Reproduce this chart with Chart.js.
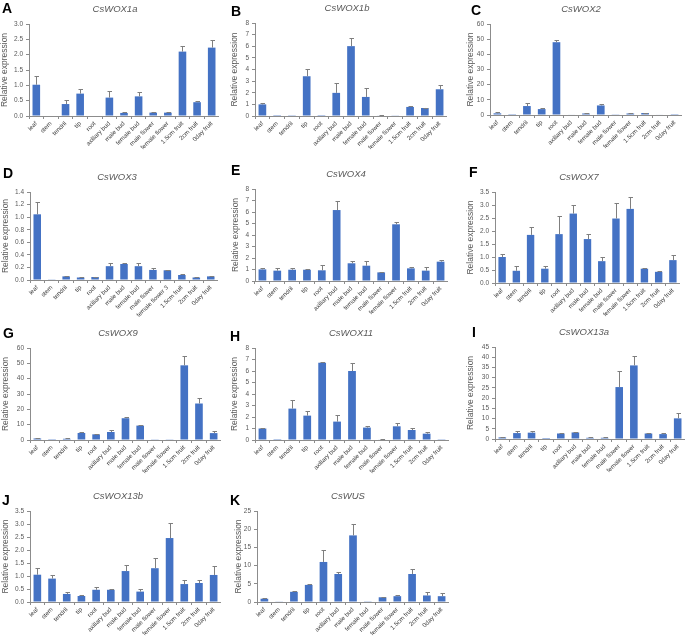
<!DOCTYPE html>
<html>
<head>
<meta charset="utf-8">
<script src="https://cdn.jsdelivr.net/npm/chart.js@4.4.1/dist/chart.umd.min.js"></script>
<style>
  html, body { margin: 0; padding: 0; background: #ffffff; }
  body { width: 685px; height: 638px; position: relative; overflow: hidden; }
  canvas { position: absolute; }
  .letter { position: absolute; font: bold 14px "Liberation Sans", Arial, sans-serif; color: #000; line-height: 14px; }
</style>
</head>
<body>
<script>
// ---------------- DATA ----------------
const categories = ['leaf', 'stem', 'tendril', 'tip', 'root', 'axillary bud', 'male bud', 'female bud', 'male flower', 'female flower', '1.5cm fruit', '2cm fruit', '0day fruit'];
const categoriesD = ['leaf', 'stem', 'tendril', 'tip', 'root', 'axillary bud', 'male bud', 'female bud', 'male flower', 'female flower 3', '1.5cm fruit', '2cm fruit', '0day fruit'];
const panelLetters = ['A', 'B', 'C', 'D', 'E', 'F', 'G', 'H', 'I', 'J', 'K'];
const geneNames = ['CsWOX1a', 'CsWOX1b', 'CsWOX2', 'CsWOX3', 'CsWOX4', 'CsWOX7', 'CsWOX9', 'CsWOX11', 'CsWOX13a', 'CsWOX13b', 'CsWUS'];

const valWOX1a = [1.02, 0, 0.39, 0.73, 0, 0.60, 0.10, 0.64, 0.11, 0.11, 2.10, 0.45, 2.23];
const errWOX1a = [0.27, 0, 0.14, 0.15, 0, 0.22, 0.03, 0.14, 0.03, 0.02, 0.17, 0.03, 0.24];
const valWOX1b = [1.00, 0.01, 0.02, 3.42, 0.01, 1.99, 6.01, 1.64, 0.05, 0.03, 0.78, 0.69, 2.30];
const errWOX1b = [0.09, 0, 0, 0.64, 0, 0.83, 0.69, 0.75, 0.02, 0, 0.11, 0.04, 0.35];
const valWOX2 = [1.1, 0.1, 5.9, 3.9, 48.0, 0.3, 1.0, 6.3, 0.2, 1.0, 1.3, 0.3, 0.1];
const errWOX2 = [0.8, 0, 2.0, 0.9, 1.5, 0, 0.2, 0.9, 0, 0.2, 0.2, 0, 0];
const valWOX3 = [1.045, 0.005, 0.058, 0.04, 0.048, 0.22, 0.255, 0.22, 0.16, 0.155, 0.08, 0.04, 0.058];
const errWOX3 = [0.20, 0, 0.01, 0.005, 0.005, 0.05, 0.01, 0.045, 0.03, 0.01, 0.01, 0.005, 0.008];
const valWOX4 = [1.01, 0.90, 0.98, 0.98, 0.93, 6.17, 1.54, 1.33, 0.75, 4.93, 1.10, 0.90, 1.68];
const errWOX4 = [0.08, 0.20, 0.18, 0.03, 0.49, 0.80, 0.23, 0.44, 0.05, 0.20, 0.15, 0.28, 0.17];
const valWOX7 = [1.00, 0.47, 1.85, 0.55, 1.88, 2.67, 1.69, 0.84, 2.48, 2.85, 0.55, 0.43, 0.88];
const errWOX7 = [0.10, 0.17, 0.29, 0.10, 0.68, 0.34, 0.20, 0.15, 0.60, 0.45, 0.04, 0.03, 0.19];
const valWOX9 = [1.0, 0.1, 0.8, 4.6, 3.7, 5.2, 14.2, 9.4, 0.2, 0.2, 48.7, 23.8, 4.5];
const errWOX9 = [0.2, 0, 0.2, 0.8, 0.5, 1.3, 0.6, 0.6, 0, 0, 5.9, 3.7, 1.3];
const valWOX11 = [1.00, 0.01, 2.73, 2.12, 6.72, 1.60, 6.00, 1.08, 0.05, 1.19, 0.87, 0.55, 0.02];
const errWOX11 = [0.08, 0, 0.77, 0.38, 0.04, 0.58, 0.70, 0.14, 0.02, 0.32, 0.17, 0.18, 0];
const valWOX13a = [0.8, 2.9, 3.1, 0.5, 2.7, 3.2, 0.6, 0.6, 25.4, 36.0, 2.7, 2.4, 10.1];
const errWOX13a = [0.3, 1.2, 0.7, 0, 0.4, 0.3, 0.2, 0.3, 8.0, 4.6, 0.4, 0.5, 2.8];
const valWOX13b = [1.05, 0.90, 0.31, 0.23, 0.47, 0.47, 1.19, 0.40, 1.30, 2.46, 0.69, 0.73, 1.04];
const errWOX13b = [0.27, 0.12, 0.06, 0.04, 0.10, 0.02, 0.25, 0.11, 0.38, 0.59, 0.14, 0.13, 0.36];
const valWUS = [0.9, 0.1, 2.8, 4.7, 11.0, 7.7, 18.3, 0.2, 1.3, 1.6, 7.7, 1.8, 1.6];
const errWUS = [0.3, 0, 0.2, 0.3, 3.4, 0.6, 3.2, 0, 0.2, 0.2, 1.5, 1.0, 0.8];

const yMaxes = [3, 8, 60, 1.4, 8, 3.5, 60, 8, 45, 3.5, 25];
const ySteps = [0.5, 1, 10, 0.2, 1, 0.5, 10, 1, 5, 0.5, 5];
const yDecimals = [1, 0, 0, 1, 0, 1, 0, 0, 0, 1, 0];

const allValues = [valWOX1a, valWOX1b, valWOX2, valWOX3, valWOX4, valWOX7, valWOX9, valWOX11, valWOX13a, valWOX13b, valWUS];
const allErrors = [errWOX1a, errWOX1b, errWOX2, errWOX3, errWOX4, errWOX7, errWOX9, errWOX11, errWOX13a, errWOX13b, errWUS];

// ---------------- LAYOUT (plot rectangles, title positions) ----------------
const plotRects = [
  {l: 29, t: 24, r: 218, b: 116},
  {l: 255, t: 23, r: 446, b: 116},
  {l: 490, t: 24, r: 681, b: 115},
  {l: 30, t: 192, r: 217, b: 280},
  {l: 255, t: 189, r: 447, b: 281},
  {l: 495, t: 192, r: 679, b: 283},
  {l: 30, t: 348, r: 220, b: 440},
  {l: 255, t: 348, r: 448, b: 440},
  {l: 495, t: 347, r: 684, b: 439},
  {l: 30, t: 511, r: 220, b: 602},
  {l: 257, t: 511, r: 448, b: 602}
];
const yTitleCenters = [5, 235, 471, 6, 236, 471, 6, 235, 471, 6, 239];
const titleCenters = [115, 347, 581, 117, 346, 579, 118, 351, 584, 118, 348];
const letterPos = [[2, 1], [231, 4], [471, 3], [3, 166], [231, 163], [469, 165], [3, 326], [230, 329], [472, 325], [2, 493], [230, 493]];

const PT = 24, YW = 34, XH = 48;
const BAR = '#4472C4';
const FONT = '"Liberation Sans", Arial, sans-serif';

const errorBarPlugin = {
  id: 'errorBars',
  afterDatasetsDraw(chart) {
    const errs = chart.options.plugins.errorBars.errors;
    const meta = chart.getDatasetMeta(0);
    const ys = chart.scales.y;
    const vals = chart.data.datasets[0].data;
    const ctx = chart.ctx;
    ctx.save();
    ctx.strokeStyle = '#7f7f7f';
    ctx.lineWidth = 1;
    meta.data.forEach((bar, i) => {
      const e = errs[i];
      if (!e) return;
      const x = Math.round(bar.x) + 0.5;
      const y0 = ys.getPixelForValue(vals[i]);
      const y1 = Math.round(ys.getPixelForValue(vals[i] + e)) + 0.5;
      ctx.beginPath();
      ctx.moveTo(x, y0);
      ctx.lineTo(x, y1);
      ctx.moveTo(x - 2, y1);
      ctx.lineTo(x + 2.5, y1);
      ctx.stroke();
    });
    ctx.restore();
  }
};

const geneTitlePlugin = {
  id: 'geneTitle',
  afterDraw(chart) {
    const o = chart.options.plugins.geneTitle;
    const ctx = chart.ctx;
    ctx.save();
    ctx.font = 'italic 9.5px ' + FONT;
    ctx.fillStyle = '#595959';
    ctx.textAlign = 'center';
    ctx.textBaseline = 'middle';
    ctx.fillText(o.text, o.x, chart.chartArea.top - 14.5);
    ctx.restore();
  }
};

for (let i = 0; i < 11; i++) {
  const p = plotRects[i];
  const CL = p.l - YW, CT = p.t - PT;
  const CW = p.r - CL + 1, CH = p.b - CT + XH;
  const cv = document.createElement('canvas');
  cv.width = CW; cv.height = CH;
  cv.style.left = CL + 'px'; cv.style.top = CT + 'px';
  cv.style.width = CW + 'px'; cv.style.height = CH + 'px';
  document.body.appendChild(cv);

  const lt = document.createElement('div');
  lt.className = 'letter';
  lt.textContent = panelLetters[i];
  lt.style.left = letterPos[i][0] + 'px';
  lt.style.top = letterPos[i][1] + 'px';
  document.body.appendChild(lt);

  const ytFont = 8.5;
  const ytPad = Math.max(yTitleCenters[i] - CL - ytFont * 1.2 / 2, 0);
  const dec = yDecimals[i];

  new Chart(cv, {
    type: 'bar',
    data: {
      labels: i === 3 ? categoriesD : categories,
      datasets: [{
        data: allValues[i],
        backgroundColor: BAR,
        borderWidth: 0,
        barPercentage: 0.52,
        categoryPercentage: 1.0
      }]
    },
    options: {
      responsive: false,
      animation: false,
      devicePixelRatio: 1,
      layout: {padding: {top: PT, left: 0, right: 0, bottom: 0}},
      plugins: {
        legend: {display: false},
        tooltip: {enabled: false},
        title: {display: false},
        errorBars: {errors: allErrors[i]},
        geneTitle: {text: geneNames[i], x: titleCenters[i] - CL}
      },
      scales: {
        x: {
          grid: {display: true, drawOnChartArea: false, drawTicks: true, tickLength: 3, color: '#8c8c8c', offset: true},
          border: {display: true, color: '#8c8c8c', width: 1},
          ticks: {
            autoSkip: false, maxRotation: 45, minRotation: 45, padding: 1,
            color: '#404040', font: {family: FONT, size: 6.2}
          },
          afterFit(scale) { scale.height = XH; }
        },
        y: {
          min: 0, max: yMaxes[i],
          grid: {display: true, drawOnChartArea: false, drawTicks: true, tickLength: 3, color: '#8c8c8c'},
          border: {display: true, color: '#8c8c8c', width: 1},
          ticks: {
            stepSize: ySteps[i], padding: 3, color: '#595959', autoSkip: false,
            font: {family: FONT, size: 6.5},
            callback: (v) => Number(v).toFixed(dec)
          },
          title: {
            display: true, text: 'Relative expression', color: '#595959',
            font: {family: FONT, size: ytFont},
            padding: {top: ytPad, bottom: 0}
          },
          afterFit(scale) { scale.width = YW; }
        }
      }
    },
    plugins: [errorBarPlugin, geneTitlePlugin]
  });
}
</script>
</body>
</html>
